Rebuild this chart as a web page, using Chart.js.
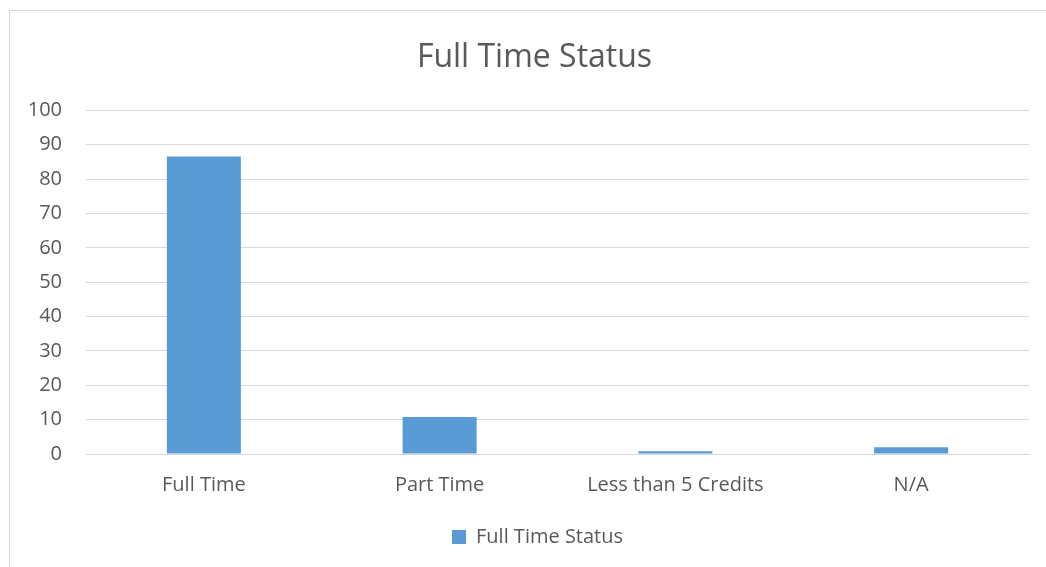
<!DOCTYPE html>
<html>
<head>
<meta charset="utf-8">
<script src="https://cdn.jsdelivr.net/npm/chart.js@4"></script>
<style>
  body { margin: 0; background: #fff; }
  #frame { position: absolute; left: 9px; top: 10px; width: 1060px; height: 600px; border: 1px solid #d9d9d9; }
  #wrap { position: absolute; left: 0; top: 0; width: 1046px; height: 567px; }
</style>
</head>
<body>
<div id="frame"></div>
<div id="wrap"><canvas id="c"></canvas></div>
<script>
const categories = ["Full Time", "Part Time", "Less than 5 Credits", "N/A"];
const statusValues = [86.6, 10.8, 0.8, 2.0];
const yTicks = [0, 10, 20, 30, 40, 50, 60, 70, 80, 90, 100];

const txt = "#595959";
const grid = "#d9d9d9";
const font = "'Open Sans', 'Liberation Sans', sans-serif";

// nudge title and legend to the right, the original centres them a bit off the canvas middle
const shiftBlocks = {
    id: "shiftBlocks",
    afterLayout(chart) {
        chart.titleBlock.left += 40;
        chart.legend.left += 46;
    }
};

new Chart(document.getElementById("c"), {
    type: "bar",
    data: {
        labels: categories,
        datasets: [{
            label: "Full Time Status",
            data: statusValues,
            backgroundColor: "#5b9bd5",
            categoryPercentage: 1,
            barPercentage: 0.314
        }]
    },
    plugins: [shiftBlocks],
    options: {
        responsive: true,
        maintainAspectRatio: false,
        animation: false,
        layout: { padding: { left: 0, right: 17, top: 0, bottom: 10 } },
        plugins: {
            title: {
                display: true,
                text: "Full Time Status",
                color: txt,
                font: { family: font, size: 32, weight: "normal" },
                padding: { top: 39, bottom: 33 }
            },
            legend: {
                position: "bottom",
                labels: {
                    color: txt,
                    font: { family: font, size: 20 },
                    boxWidth: 14,
                    boxHeight: 14,
                    padding: 10
                }
            },
            tooltip: { enabled: false }
        },
        scales: {
            x: {
                grid: { display: false, drawTicks: false },
                border: { color: grid },
                ticks: { color: txt, font: { family: font, size: 20 }, padding: 19 },
                afterFit: s => { s.height = 63; }
            },
            y: {
                min: 0,
                max: 100,
                afterBuildTicks: s => { s.ticks = yTicks.map(v => ({ value: v })); },
                grid: { color: grid, drawTicks: false },
                border: { display: false },
                ticks: { color: txt, font: { family: font, size: 20 }, padding: 24 },
                afterFit: s => { s.width = 86; }
            }
        }
    }
});
</script>
</body>
</html>
